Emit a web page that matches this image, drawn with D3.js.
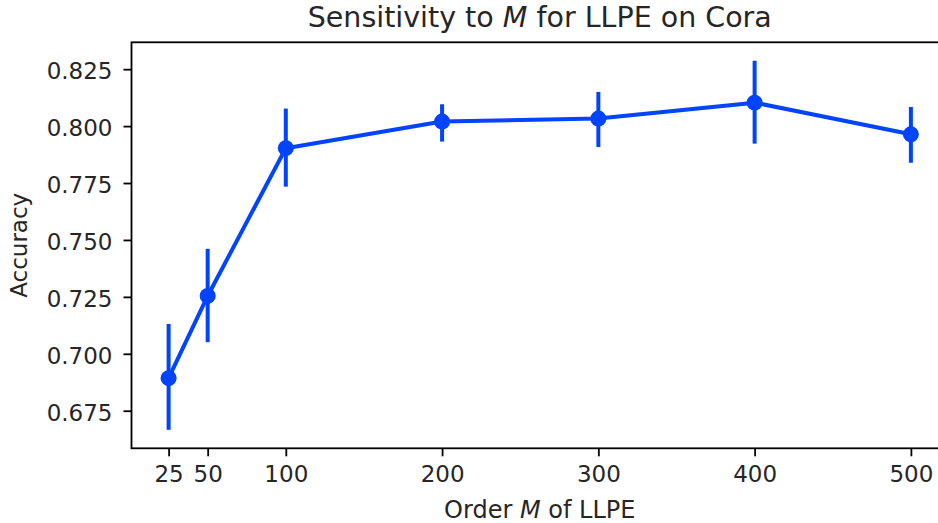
<!DOCTYPE html>
<html><head><meta charset="utf-8">
<script src="https://cdn.jsdelivr.net/npm/d3@7"></script>
<style>
html,body{margin:0;padding:0;background:#fff;}
text{font-family:"DejaVu Sans",sans-serif;fill:#262626;}
</style></head>
<body>
<svg id="chart" width="938" height="523"></svg>
<script>
const orders = [25, 50, 100, 200, 300, 400, 500];
const accuracy = [0.6893, 0.7254, 0.7903, 0.8020, 0.8033, 0.8103, 0.7964];
const lowerBound = [0.6666, 0.7051, 0.7734, 0.7932, 0.7908, 0.7923, 0.7839];
const upperBound = [0.7131, 0.7461, 0.8077, 0.8096, 0.8150, 0.8287, 0.8084];
const xTicks = [25, 50, 100, 200, 300, 400, 500];
const yTicks = [0.675, 0.700, 0.725, 0.750, 0.775, 0.800, 0.825];

const svg = d3.select("#chart");
const mLeft = 131.5, mRight = 948, mTop = 42.3, mBottom = 448.3;
const color = "#0044ff";

function padded(lo, hi){ const p = (hi - lo) * 0.05; return [lo - p, hi + p]; }
const x = d3.scaleLinear().domain(padded(d3.min(orders), d3.max(orders))).range([mLeft, mRight]);
const y = d3.scaleLinear().domain(padded(d3.min(lowerBound), d3.max(upperBound))).range([mBottom, mTop]);

const data = orders.map((o, i) => ({o, m: accuracy[i], lo: lowerBound[i], hi: upperBound[i]}));

// error bars
svg.append("g").selectAll("line").data(data).join("line")
  .attr("x1", d => x(d.o)).attr("x2", d => x(d.o))
  .attr("y1", d => y(d.lo)).attr("y2", d => y(d.hi))
  .attr("stroke", color).attr("stroke-width", 4);

// line
svg.append("path").datum(data)
  .attr("d", d3.line().x(d => x(d.o)).y(d => y(d.m)))
  .attr("fill", "none").attr("stroke", color).attr("stroke-width", 4)
  .attr("stroke-linejoin", "round");

// markers
svg.append("g").selectAll("circle").data(data).join("circle")
  .attr("cx", d => x(d.o)).attr("cy", d => y(d.m)).attr("r", 8)
  .attr("fill", color);

// axes
const xAxis = d3.axisBottom(x).tickValues(xTicks).tickSize(8).tickPadding(9).tickFormat(d3.format("d"));
const gx = svg.append("g").attr("transform", `translate(0,${mBottom})`).call(xAxis);
gx.select(".domain").remove();
gx.selectAll(".tick line").attr("stroke", "#000").attr("stroke-width", 1.8);
gx.selectAll(".tick text").attr("font-size", 23).attr("fill", "#262626").attr("font-family", "DejaVu Sans");

const yAxis = d3.axisLeft(y).tickValues(yTicks).tickSize(8).tickPadding(11).tickFormat(d3.format(".3f"));
const gy = svg.append("g").attr("transform", `translate(${mLeft},0)`).call(yAxis);
gy.select(".domain").remove();
gy.selectAll(".tick line").attr("stroke", "#000").attr("stroke-width", 1.8);
gy.selectAll(".tick text").attr("font-size", 23).attr("fill", "#262626").attr("font-family", "DejaVu Sans").attr("dy", "0.42em");

// spines
svg.append("rect").attr("x", mLeft).attr("y", mTop).attr("width", mRight - mLeft).attr("height", mBottom - mTop)
  .attr("fill", "none").attr("stroke", "#000").attr("stroke-width", 1.8);

// title
const title = svg.append("text").attr("x", (mLeft + mRight) / 2).attr("y", 27.3)
  .attr("text-anchor", "middle").attr("font-size", 28.5);
title.append("tspan").text("Sensitivity to ");
title.append("tspan").attr("font-style", "italic").text("M");
title.append("tspan").text(" for LLPE on Cora");

// x label
const xl = svg.append("text").attr("x", (mLeft + mRight) / 2).attr("y", 517.5)
  .attr("text-anchor", "middle").attr("font-size", 24);
xl.append("tspan").text("Order ");
xl.append("tspan").attr("font-style", "italic").text("M");
xl.append("tspan").text(" of LLPE");

// y label
svg.append("text").attr("transform", `translate(27,${(mTop + mBottom) / 2}) rotate(-90)`)
  .attr("text-anchor", "middle").attr("font-size", 23).text("Accuracy");
</script>
</body></html>
